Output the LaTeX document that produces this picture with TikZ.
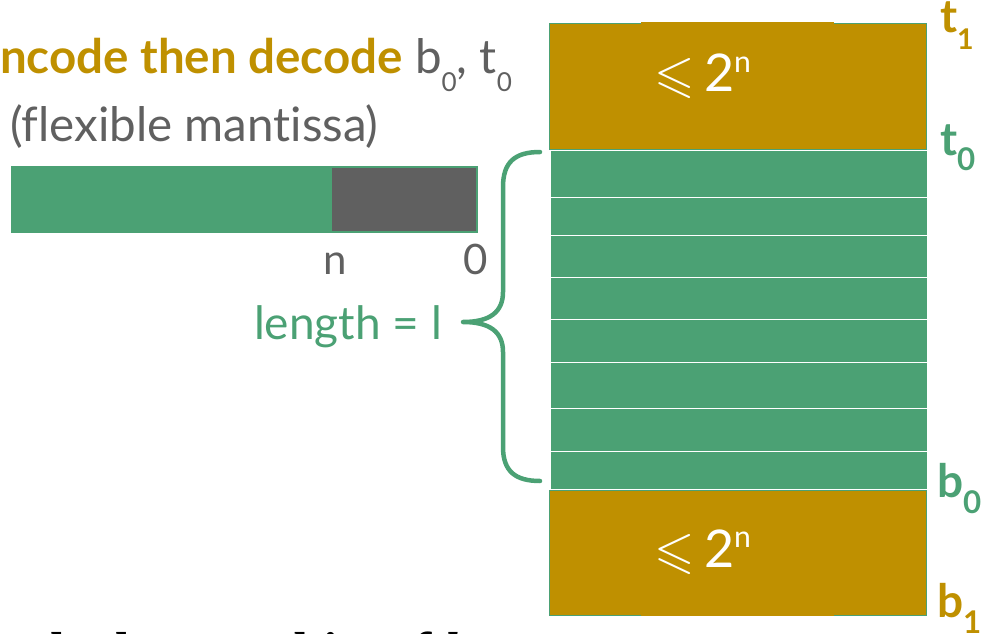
\documentclass[tikz,border=0pt]{standalone}
\usepackage{fontspec}
\usepackage{amssymb}
\setmainfont{Lato}[Ligatures=NoCommon]
\newfontfamily\serifbold{Liberation Serif}
\definecolor{gold}{RGB}{191,144,0}
\definecolor{mygreen}{RGB}{75,161,116}
\definecolor{mygray}{RGB}{96,96,96}
\newcommand\lowsub[3]{\raisebox{-#2em}{\scalebox{#1}{#3}}}
\newcommand\highsup[3]{\raisebox{#2em}{\scalebox{#1}{#3}}}
\newcommand\sz[1]{\fontsize{#1}{#1}\selectfont}
\tikzset{
  txt/.style={inner sep=0pt, outer sep=0pt},
  strip/.style={fill=mygreen, draw=white, line width=1.4pt, inner sep=0pt, minimum width=377pt},
  goldblock/.style={fill=gold, draw=mygreen, line width=1pt, inner sep=0pt, minimum width=377pt},
  endlabel/.style={txt, font=\sz{46}\bfseries},
  bracestyle/.style={draw=mygreen, line width=4.5pt, line cap=round, line join=round},
}
\begin{document}
\begin{tikzpicture}[x=1pt,y=-1pt]
\useasboundingbox (0,0) rectangle (996,634);
\clip (0,0) rectangle (996,634);

% title
\node[txt, anchor=base east, text=gold] (title) at (512,74)
  {\sz{47.5}\textbf{Encode then decode} \textcolor{mygray}{b\lowsub{0.55}{0.36}{0}, t\lowsub{0.55}{0.36}{0}}};
\node[txt, anchor=base west, text=mygray] (flex) at (10,141) {\sz{47.5}(flexible mantissa)};

% mantissa bar
\node[txt, anchor=north west, fill=mygreen, draw=mygreen, line width=1pt, minimum width=466pt, minimum height=66pt] (bar) at (11.5,166) {};
\node[txt, anchor=north west, fill=mygray, minimum width=144pt, minimum height=63pt] (low) at (332,167.5) {};
\node[txt, anchor=base, text=mygray] (nlab) at (335,274) {\sz{42}n};
\node[txt, anchor=base, text=mygray] (zlab) at (476,274) {\sz{42}0};

% length label and brace
\node[txt, anchor=base east, text=mygreen] (len) at (442,339) {\sz{46}length = l};
\coordinate (btop) at (540,152);
\coordinate (bbot) at (540,481);
\coordinate (btip) at (463,322);
\path[bracestyle] (btop) .. controls (515,152) and (503,162) .. (503,187)
  -- (503,292) .. controls (503,312) and (490,322) .. (btip)
  .. controls (490,322) and (503,332) .. (503,352)
  -- (503,447) .. controls (503,471) and (515,481) .. (bbot);

% top block
\node[goldblock, anchor=north west, minimum height=126pt] (top) at (549,23) {};
\fill[gold] (641,22) rectangle (834,25);
\node[txt, anchor=base, text=white] (toplab) at (703,92) {\sz{52}$\leqslant$\,2\highsup{0.58}{0.37}{n}};

% strips
\foreach \a/\b [count=\i] in {150/197,197/235,235/277,277/319,319/362,362/408,408/451,451/489}{
  \node[strip, anchor=north west, minimum height={\b-\a}] (s\i) at (549.5,\a) {};
}

% bottom block
\node[goldblock, anchor=north west, minimum height=125pt] (bot) at (549,490) {};
\fill[gold] (641,612) rectangle (834,616);
\node[txt, anchor=base, text=white] (botlab) at (703,567) {\sz{52}$\leqslant$\,2\highsup{0.58}{0.37}{n}};

% end labels
\node[endlabel, anchor=base west, text=gold] (t1) at (940,33) {t\lowsub{0.62}{0.36}{1}};
\node[endlabel, anchor=base west, text=mygreen] (t0) at (940,155) {t\lowsub{0.68}{0.33}{0}};
\node[endlabel, anchor=base west, text=mygreen] (b0) at (937,497) {b\lowsub{0.68}{0.35}{0}};
\node[endlabel, anchor=base west, text=gold] (b1) at (937,617) {b\lowsub{0.68}{0.35}{1}};

% cut-off body text
\node[txt, anchor=base west, text=black] (body) at (33,668.5) {\serifbold\sz{52}\textbf{the lower \textit{n} bits of \textit{b}}};
\end{tikzpicture}
\end{document}
